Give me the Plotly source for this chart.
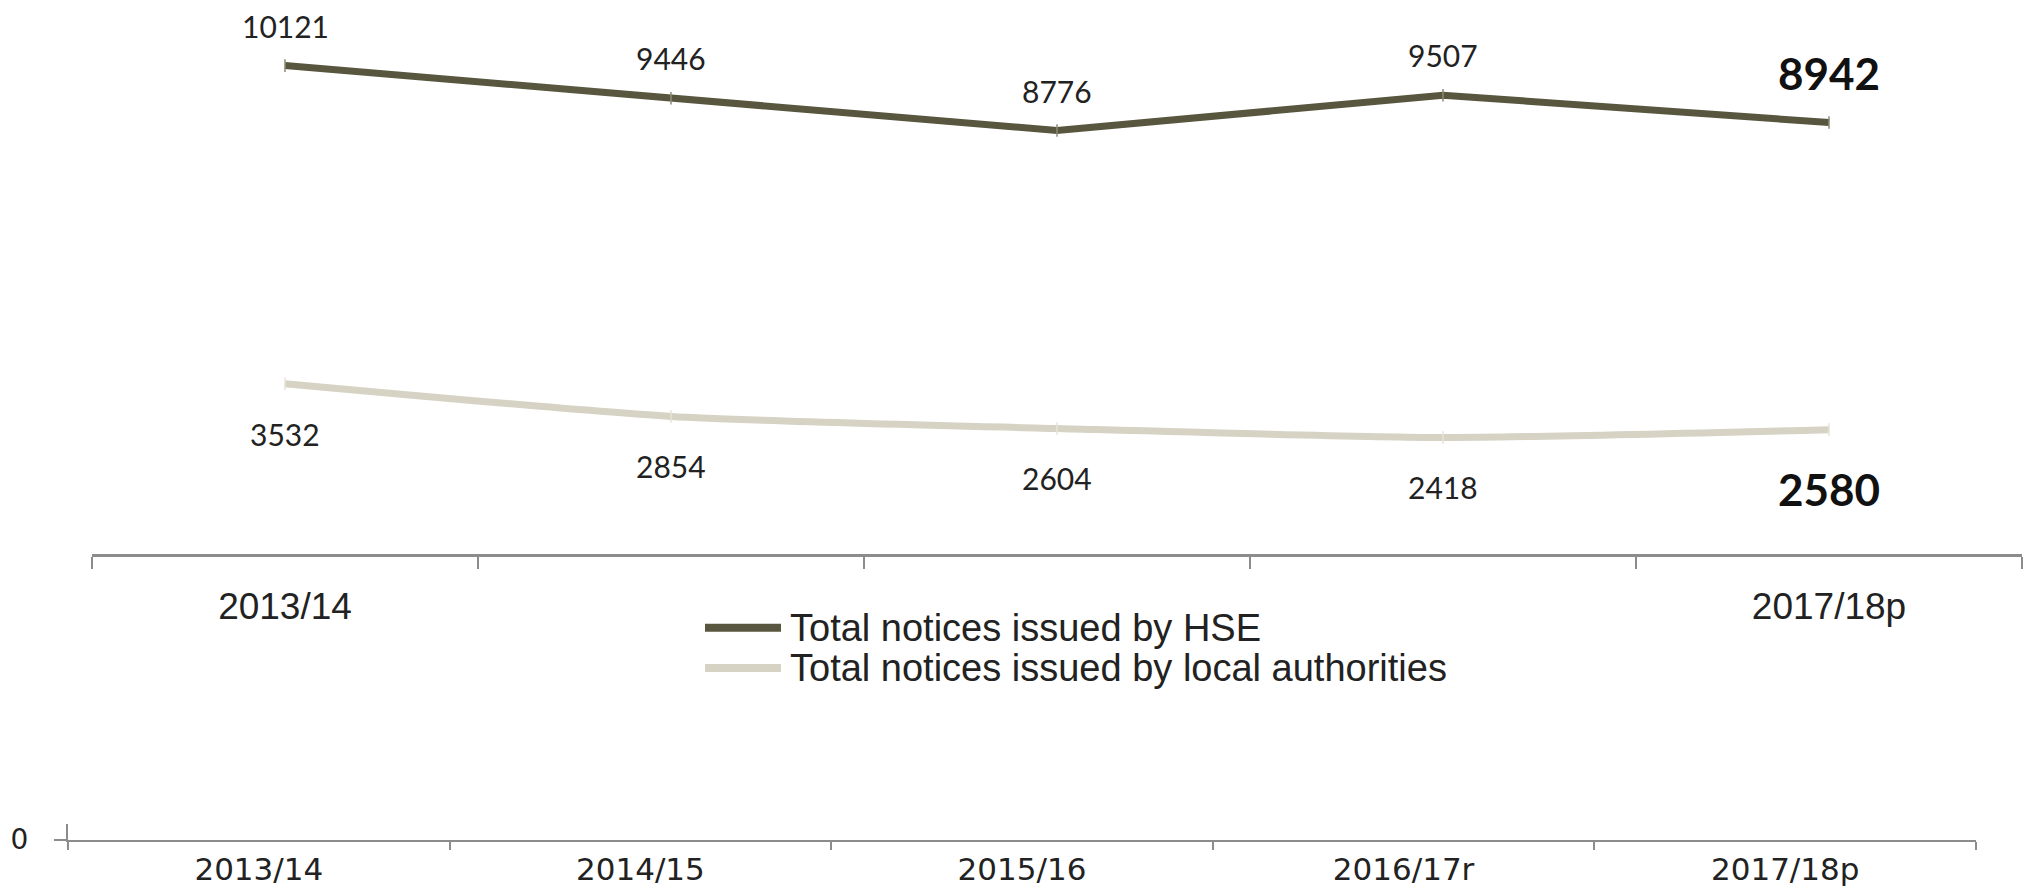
import plotly.graph_objects as go

# Financial years shown on both category axes
years = ["2013/14", "2014/15", "2015/16", "2016/17r", "2017/18p"]

# Enforcement notices issued per year
hse_notices = [10121, 9446, 8776, 9507, 8942]
la_notices = [3532, 2854, 2604, 2418, 2580]

# Tick labels: the upper axis labels only the first and last years
upper_tick_labels = ["2013/14", "", "", "", "2017/18p"]
lower_tick_labels = ["2013/14", "2014/15", "2015/16", "2016/17r", "2017/18p"]

series_names = ["Total notices issued by HSE",
                "Total notices issued by local authorities"]

W, H = 2033, 888
HSE_COLOR = "#58563f"
LA_COLOR = "#d6d2c4"
AXIS_COLOR = "#8c8c8c"
TEXT_COLOR = "#222222"
LABEL_FONT = "Lato, 'Open Sans', sans-serif"
AXIS_FONT = "'Liberation Sans', Arial, sans-serif"
WIDE_FONT = "'DejaVu Sans', 'Liberation Sans', sans-serif"


def fx(px):
    return px / W


def fy(px):
    return 1 - px / H


fig = go.Figure()

fig.add_trace(go.Scatter(
    x=years, y=hse_notices, name=series_names[0], mode="lines+markers",
    line=dict(color=HSE_COLOR, width=7),
    marker=dict(symbol="line-ns", size=9, color="#8d8b74",
                line=dict(color="#8d8b74", width=1.5)),
    showlegend=False, xaxis="x", yaxis="y",
))
fig.add_trace(go.Scatter(
    x=years, y=la_notices, name=series_names[1], mode="lines+markers",
    line=dict(color=LA_COLOR, width=7, shape="spline", smoothing=0.6),
    marker=dict(symbol="line-ns", size=9, color="#e6e3d8",
                line=dict(color="#e6e3d8", width=1.5)),
    showlegend=False, xaxis="x", yaxis="y",
))

# Value labels: HSE above the line, local authorities below it,
# with the latest year emphasised
annotations = []
last = len(years) - 1
for i, (yr, v) in enumerate(zip(years, hse_notices)):
    bold = i == last
    annotations.append(dict(
        x=yr, y=v, xref="x", yref="y", text=f"<b>{v}</b>" if bold else str(v),
        showarrow=False, xanchor="center", yanchor="middle",
        yshift=50 if bold else 40,
        font=dict(family=LABEL_FONT, size=44 if bold else 30,
                  color="#111111" if bold else TEXT_COLOR),
    ))
for i, (yr, v) in enumerate(zip(years, la_notices)):
    bold = i == last
    annotations.append(dict(
        x=yr, y=v, xref="x", yref="y", text=f"<b>{v}</b>" if bold else str(v),
        showarrow=False, xanchor="center", yanchor="middle",
        yshift=-59 if bold else -50,
        font=dict(family=LABEL_FONT, size=44 if bold else 30,
                  color="#111111" if bold else TEXT_COLOR),
    ))

# Legend drawn as line samples with text beside them
shapes = []
legend_rows = [(series_names[0], HSE_COLOR, 640), (series_names[1], LA_COLOR, 681)]
for name, color, ypx in legend_rows:
    shapes.append(dict(type="line", xref="paper", yref="paper",
                       x0=fx(705), x1=fx(781), y0=fy(ypx), y1=fy(ypx),
                       line=dict(color=color, width=8)))
    annotations.append(dict(
        x=fx(788), y=fy(ypx), xref="paper", yref="paper", text=name,
        showarrow=False, xanchor="left", yanchor="middle",
        font=dict(family=AXIS_FONT, size=38, color=TEXT_COLOR),
    ))

fig.update_layout(
    width=W, height=H,
    margin=dict(l=0, r=0, t=0, b=0),
    paper_bgcolor="white", plot_bgcolor="white",
    showlegend=False,
    annotations=annotations,
    shapes=shapes,
    xaxis=dict(
        domain=[fx(92), fx(2022)], type="category", range=[-0.5, 4.5],
        anchor="y", showline=True, linecolor=AXIS_COLOR, linewidth=3,
        ticks="outside", ticklen=12, tickwidth=2, tickcolor=AXIS_COLOR,
        tickson="boundaries", showgrid=False, zeroline=False,
        tickvals=years, ticktext=upper_tick_labels, ticklabelstandoff=17,
        tickfont=dict(family=AXIS_FONT, size=37, color=TEXT_COLOR),
    ),
    yaxis=dict(
        domain=[fy(565), 1.0], range=[0, 11480], visible=False,
        showgrid=False, zeroline=False,
    ),
    xaxis2=dict(
        domain=[fx(68), fx(1976)], type="category", range=[-0.5, 4.5],
        anchor="y2", showline=True, linecolor=AXIS_COLOR, linewidth=2,
        ticks="outside", ticklen=8, tickwidth=2, tickcolor=AXIS_COLOR,
        tickson="boundaries", showgrid=False, zeroline=False,
        tickvals=years, ticktext=lower_tick_labels, ticklabelstandoff=1,
        tickfont=dict(family=WIDE_FONT, size=31, color=TEXT_COLOR),
    ),
    yaxis2=dict(
        domain=[fy(856), fy(840)], range=[0, 1], anchor="x2",
        showline=True, linecolor=AXIS_COLOR, linewidth=2,
        ticks="outside", ticklen=12, tickwidth=2, tickcolor=AXIS_COLOR,
        tickvals=[0], ticktext=["0"], ticklabelstandoff=20,
        showgrid=False, zeroline=False,
        tickfont=dict(family=WIDE_FONT, size=28, color=TEXT_COLOR),
    ),
)

# Empty trace so the lower axis pair is rendered
fig.add_trace(go.Scatter(x=years, y=[None] * len(years), xaxis="x2", yaxis="y2",
                         mode="lines", showlegend=False, hoverinfo="skip"))

fig.write_html("out.html")
